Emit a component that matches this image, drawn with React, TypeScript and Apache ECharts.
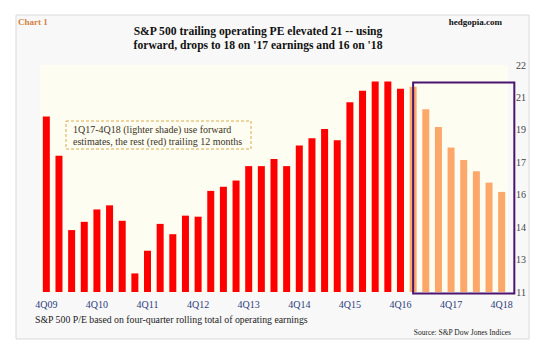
import React, { useEffect, useRef } from "react";
import * as echarts from "echarts";

const quarters = [
  "4Q09",
  "1Q10", "2Q10", "3Q10", "4Q10",
  "1Q11", "2Q11", "3Q11", "4Q11",
  "1Q12", "2Q12", "3Q12", "4Q12",
  "1Q13", "2Q13", "3Q13", "4Q13",
  "1Q14", "2Q14", "3Q14", "4Q14",
  "1Q15", "2Q15", "3Q15", "4Q15",
  "1Q16", "2Q16", "3Q16", "4Q16",
  "1Q17", "2Q17", "3Q17", "4Q17",
  "1Q18", "2Q18", "3Q18", "4Q18",
];

// trailing 12-month operating P/E (red), 4Q09 - 4Q16
const trailingPE = [
  19.5, 17.6, 14.0, 14.4, 15.0, 15.2, 14.45, 11.9, 13.0, 14.3, 13.8, 14.7, 14.65,
  15.9, 16.1, 16.4, 17.1, 17.1, 17.45, 17.1, 18.1, 18.45, 18.9, 18.35, 20.2,
  20.75, 21.2, 21.2, 20.85,
];

// forward estimates (lighter shade), 1Q17 - 4Q18
const forwardPE = [20.95, 19.85, 19.0, 18.0, 17.4, 16.85, 16.3, 15.85];

const yTickLabels = ["11", "13", "14", "16", "17", "19", "21", "22"];
const yMin = 11;
const yMax = 22;

const RED = "#ff0000";
const ORANGE = "#fba86a";
const SERIF = "'Liberation Serif', 'DejaVu Serif', serif";

function buildOption(box: null | { x: number; y: number; w: number; h: number }) {
  const interval = (yMax - yMin) / (yTickLabels.length - 1);
  const data = [
    ...trailingPE.map((v) => ({ value: v, itemStyle: { color: RED } })),
    ...forwardPE.map((v) => ({ value: v, itemStyle: { color: ORANGE } })),
  ];
  const graphic: any[] = [
    {
      type: "rect",
      z: -5,
      silent: true,
      shape: { x: 16, y: 15, width: 513, height: 324 },
      style: { fill: "#f8f8f8", stroke: "#dadada", lineWidth: 1 },
    },
    {
      type: "text",
      z: 10,
      left: 18,
      top: 17,
      style: { text: "Chart 1", font: `bold 9px ${SERIF}`, fill: "#d4823e" },
    },
    {
      type: "text",
      z: 10,
      right: 48,
      top: 17,
      style: { text: "hedgopia.com", font: `bold 9px ${SERIF}`, fill: "#111" },
    },
    {
      type: "text",
      z: 10,
      x: 258,
      y: 24,
      scaleX: 0.86,
      style: {
        text: "S&P 500 trailing operating PE elevated 21 -- using\nforward, drops to 18 on '17 earnings and 16 on '18",
        font: `bold 13.5px ${SERIF}`,
        fill: "#111",
        align: "center",
        verticalAlign: "top",
        lineHeight: 14,
      },
    },
    {
      type: "rect",
      z: 10,
      shape: { x: 66, y: 121, width: 185, height: 28 },
      style: { fill: "rgba(0,0,0,0)", stroke: "#d9ab4c", lineWidth: 1, lineDash: [3, 2] },
    },
    {
      type: "text",
      z: 11,
      x: 73,
      y: 123,
      style: {
        text: "1Q17-4Q18 (lighter shade) use forward\nestimates, the rest (red) trailing 12 months",
        font: `10px ${SERIF}`,
        fill: "#3b3325",
        lineHeight: 12.5,
        verticalAlign: "top",
      },
    },
    {
      type: "text",
      z: 10,
      x: 35,
      y: 314,
      style: {
        text: "S&P 500 P/E based on four-quarter rolling total of operating earnings",
        font: `9.8px ${SERIF}`,
        fill: "#222",
        verticalAlign: "top",
      },
    },
    {
      type: "text",
      z: 10,
      x: 511,
      y: 328,
      style: {
        text: "Source: S&P Dow Jones Indices",
        font: `7.5px ${SERIF}`,
        fill: "#222",
        align: "right",
        verticalAlign: "top",
      },
    },
  ];
  if (box) {
    graphic.push({
      type: "rect",
      z: 20,
      silent: true,
      shape: { x: box.x, y: box.y, width: box.w, height: box.h },
      style: { fill: "rgba(0,0,0,0)", stroke: "#4b1470", lineWidth: 2 },
    });
  }
  return {
    animation: false,
    backgroundColor: "#ffffff",
    grid: {
      left: 40,
      right: 42,
      top: 65,
      bottom: 60,
      show: true,
      backgroundColor: "#fefdf1",
      borderWidth: 0,
    },
    xAxis: {
      type: "category",
      data: quarters,
      boundaryGap: true,
      axisLine: { show: false },
      axisTick: { show: false },
      axisLabel: {
        interval: 3,
        margin: 7,
        color: "#2c3d7c",
        fontFamily: SERIF,
        fontSize: 10,
      },
    },
    yAxis: {
      type: "value",
      position: "right",
      min: yMin,
      max: yMax,
      interval,
      splitLine: { show: false },
      axisLine: { show: false },
      axisTick: { show: false },
      axisLabel: {
        align: "right",
        margin: 18,
        color: "#444",
        fontFamily: SERIF,
        fontSize: 10,
        formatter: (v: number) => {
          const i = Math.round((v - yMin) / interval);
          return yTickLabels[i] ?? "";
        },
      },
    },
    series: [
      {
        type: "bar",
        data,
        barWidth: 7,
        itemStyle: { borderWidth: 0 },
      },
    ],
    graphic,
  };
}

export default function App() {
  const ref = useRef<HTMLDivElement>(null);
  useEffect(() => {
    if (!ref.current) return;
    const chart = echarts.init(ref.current, undefined, { renderer: "svg" });
    chart.setOption(buildOption(null) as any);
    const firstForward = trailingPE.length; // index of 1Q17
    const x0 = chart.convertToPixel({ xAxisIndex: 0 }, firstForward - 0.5) as number;
    const x1 = chart.convertToPixel({ xAxisIndex: 0 }, quarters.length - 0.5) as number;
    const yTop = chart.convertToPixel({ yAxisIndex: 0 }, 21.15) as number;
    const yBot = (chart.convertToPixel({ yAxisIndex: 0 }, yMin) as number) + 1.5;
    chart.setOption(buildOption({ x: x0, y: yTop, w: x1 - x0, h: yBot - yTop }) as any, true);
    return () => chart.dispose();
  }, []);
  return (
    <div
      ref={ref}
      style={{ position: "fixed", left: 0, top: 0, width: 550, height: 352 }}
    />
  );
}
